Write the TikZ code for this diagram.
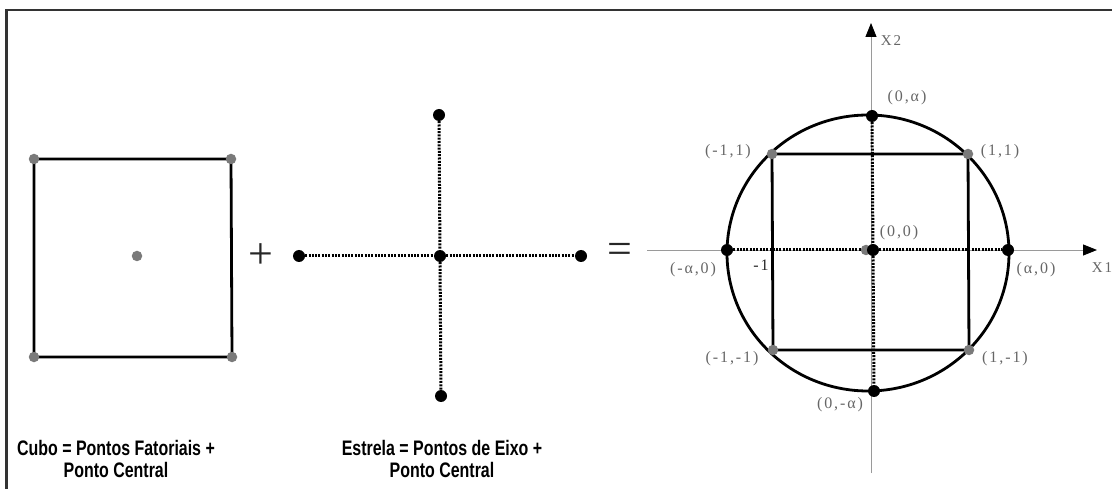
\documentclass[tikz,border=0pt]{standalone}
\usepackage{fontspec}
\setmainfont{Liberation Serif}
\newfontfamily\lblfont[LetterSpace=12]{Liberation Serif}
\newfontfamily\capfont[FakeStretch=0.76]{Liberation Sans}
\usetikzlibrary{arrows.meta}
\definecolor{lblgray}{HTML}{666666}
\definecolor{ptgray}{HTML}{7A7A7A}
\definecolor{axgray}{HTML}{9A9A9A}
\begin{document}
\begin{tikzpicture}[x=1pt,y=-1pt,
  bdot/.style={circle,fill=black,inner sep=0pt,minimum size=12pt},
  gdot/.style={circle,fill=ptgray,inner sep=0pt,minimum size=10.5pt},
  solidedge/.style={line width=2.8pt,black},
  dotedge/.style={line width=3pt,black,dash pattern=on 2pt off 1.3pt},
  axisline/.style={line width=0.9pt,axgray,-{Triangle[length=14pt,width=11pt,color=black]}},
  lbl/.style={text=lblgray,font=\lblfont\fontsize{16}{18}\selectfont,inner sep=0pt},
  captext/.style={font=\capfont\bfseries\fontsize{21}{22}\selectfont,align=center,inner sep=0pt},
  opsign/.style={font=\fontsize{44}{44}\selectfont,inner sep=0pt,text=black!85}
]
\useasboundingbox (0,0) rectangle (1112,489);
% frame
\draw[line width=2.6pt,black!80] (6.5,489) -- (6.5,10) -- (1112,10);

% ---- cube ----
\coordinate (c1) at (34,159);
\coordinate (c2) at (231,159);
\coordinate (c3) at (232,357);
\coordinate (c4) at (34,357);
\draw[solidedge] (c1) -- (c2) -- (c3) -- (c4) -- cycle;
\node[gdot] (cc1) at (c1) {};
\node[gdot] (cc2) at (c2) {};
\node[gdot] (cc3) at (c3) {};
\node[gdot] (cc4) at (c4) {};
\node[gdot] (cc0) at (137,256) {};

\node[opsign] (plus) at (261,256) {+};

% ---- star ----
\node[bdot] (sL) at (299,256) {};
\node[bdot] (sC) at (440,256) {};
\node[bdot] (sR) at (581,256) {};
\node[bdot] (sT) at (439,115) {};
\node[bdot] (sB) at (441,396) {};
\draw[dotedge] (sL) -- (sC);
\draw[dotedge] (sC) -- (sR);
\draw[dotedge] (sT) -- (sC);
\draw[dotedge] (sC) -- (sB);

\node[opsign] (eq) at (620,253) {=};

% ---- composite ----
\coordinate (xs) at (647,250);
\coordinate (xe) at (1097,250);
\coordinate (ys) at (871,473);
\coordinate (ye) at (871,23);
\draw[axisline] (xs) -- (xe);
\draw[axisline] (ys) -- (ye);
\node[lbl,font=\lblfont\fontsize{15}{16}\selectfont] (X2) at (891,41) {X2};
\node[lbl,font=\lblfont\fontsize{15}{16}\selectfont] (X1) at (1102,268) {X1};

\draw[solidedge] (868,253) ellipse [x radius=141, y radius=138];

\coordinate (q1) at (772,154);
\coordinate (q2) at (968,154);
\coordinate (q3) at (969,350);
\coordinate (q4) at (773,350);
\draw[solidedge] (q1) -- (q2) -- (q3) -- (q4) -- cycle;

\node[bdot] (aL) at (727,250) {};
\node[bdot] (aR) at (1008,250) {};
\node[bdot] (aT) at (872,116) {};
\node[bdot] (aB) at (874,391) {};
\node[gdot] (o0) at (866,250) {};
\node[bdot] (oo) at (873,250) {};
\draw[dotedge] (aL) -- (o0);
\draw[dotedge] (oo) -- (aR);
\draw[dotedge] (aT) -- (oo);
\draw[dotedge] (oo) -- (aB);

\node[gdot] (p1) at (q1) {};
\node[gdot] (p2) at (q2) {};
\node[gdot] (p3) at (q3) {};
\node[gdot] (p4) at (q4) {};

% labels
\node[lbl] (l0a) at (907,98) {(0,α)};
\node[lbl] (lm11) at (728,152) {(-1,1)};
\node[lbl] (l11) at (1000,152) {(1,1)};
\node[lbl] (l00) at (899,233) {(0,0)};
\node[lbl] (lma0) at (693,270) {(-α,0)};
\node[lbl,text=black!85] (lm1) at (761,265) {-1};
\node[lbl] (la0) at (1036,270) {(α,0)};
\node[lbl] (lm1m1) at (732,359) {(-1,-1)};
\node[lbl] (l1m1) at (1005,359) {(1,-1)};
\node[lbl] (l0ma) at (840,405) {(0,-α)};

% captions
\node[captext] (capC) at (116,459) {Cubo = Pontos Fatoriais +\\Ponto Central};
\node[captext] (capE) at (442,459) {Estrela = Pontos de Eixo +\\Ponto Central};
\end{tikzpicture}
\end{document}
